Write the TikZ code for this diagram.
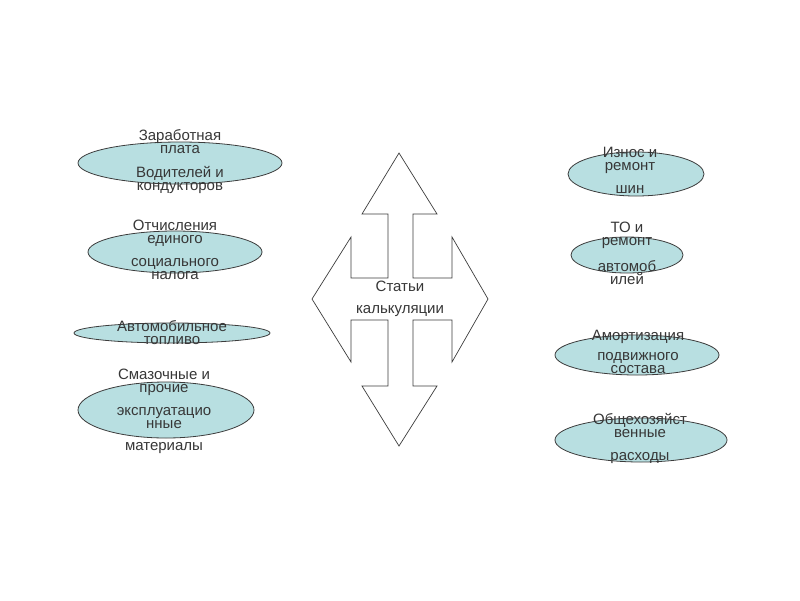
\documentclass[tikz,border=0pt]{standalone}
\usepackage{fontspec}
\setmainfont{Liberation Sans}
\usetikzlibrary{shapes.geometric}
\definecolor{ellfill}{RGB}{184,223,225}
\definecolor{txt}{RGB}{55,55,55}
\definecolor{edge}{RGB}{60,60,60}
\begin{document}
\begin{tikzpicture}[x=1pt,y=-1pt,
  oval/.style={ellipse,draw=edge,line width=0.8pt,fill=ellfill,inner sep=0pt},
  lbl/.style={align=center,text=txt,font=\fontsize{15}{13}\selectfont,inner sep=0pt},
  bigarrow/.style={draw=edge,line width=0.7pt,fill=white,line join=miter}]
\useasboundingbox (0,0) rectangle (800,600);
\fill[white] (0,0) rectangle (800,600);
% left ellipses
\node[oval,minimum width=204pt,minimum height=42pt] (e1) at (180,163) {};
\node[oval,minimum width=174pt,minimum height=42pt] (e2) at (175,252) {};
\node[oval,minimum width=196pt,minimum height=20pt] (e3) at (172,333) {};
\node[oval,minimum width=176pt,minimum height=56pt] (e4) at (166,410) {};
% right ellipses
\node[oval,minimum width=136pt,minimum height=44pt] (e5) at (636,174) {};
\node[oval,minimum width=112pt,minimum height=36pt] (e6) at (627,255) {};
\node[oval,minimum width=164pt,minimum height=40pt] (e7) at (637,355) {};
\node[oval,minimum width=172pt,minimum height=44pt] (e8) at (641,440) {};
% labels
\node[lbl] (t1) at (180,161.5) {Заработная\\плата\\[11pt]Водителей и\\кондукторов};
\node[lbl] (t2) at (175,249.5) {Отчисления\\единого\\[10pt]социального\\налога};
\node[lbl] (t3) at (172,333) {Автомобильное\\топливо};
\node[lbl] (t4) at (164,411) {Смазочные и\\прочие\\[10pt]эксплуатацио\\нные\\[9pt]материалы};
\node[lbl] (t5) at (630,170) {Износ и\\ремонт\\[10pt]шин};
\node[lbl] (t6) at (627,253) {ТО и\\ремонт\\[11pt]автомоб\\илей};
\node[lbl] (t7) at (638,351.5) {Амортизация\\[7pt]подвижного\\состава};
\node[lbl] (t8) at (640,438) {Общехозяйст\\венные\\[10pt]расходы};
% central four-way arrow
\draw[bigarrow] (399,153) -- (437,214) -- (413,214) -- (413,278) -- (452,278) -- (452,237)
  -- (488,299) -- (452,362) -- (452,320) -- (413,320) -- (413,386) -- (437,386)
  -- (399,446) -- (362,386) -- (388,386) -- (388,320) -- (351,320) -- (351,362)
  -- (312,299) -- (351,237) -- (351,278) -- (388,278) -- (388,214) -- (362,214) -- cycle;
\node[lbl] (c) at (400,299) {Статьи\\[9pt]калькуляции};
\end{tikzpicture}
\end{document}
